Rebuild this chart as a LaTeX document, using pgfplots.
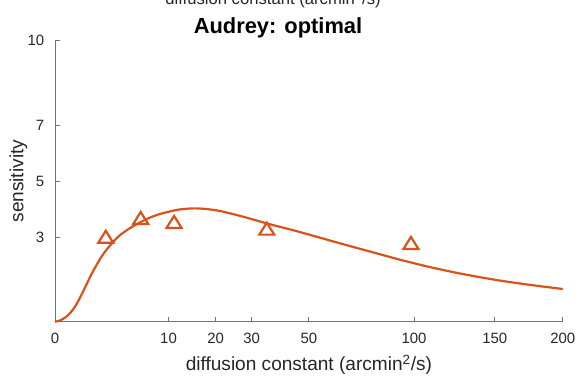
\documentclass[border=0pt]{standalone}
\usepackage{pgfplots}
\pgfplotsset{compat=1.18}
\usepackage{fontspec}
\setmainfont{Liberation Sans}
\definecolor{morange}{rgb}{0.85,0.325,0.098}
\definecolor{axgray}{rgb}{0.45,0.45,0.45}
\definecolor{txtgray}{rgb}{0.15,0.15,0.15}
\begin{document}
\begin{tikzpicture}
\begin{axis}[
  at={(41.25pt,41.475pt)}, anchor=south west,
  scale only axis, width=380.8pt, height=210.75pt,
  xmin=0, xmax=200, ymin=0, ymax=10,
  x coord trafo/.code={\pgfmathparse{sqrt(#1)}},
  x coord inv trafo/.code={\pgfmathparse{(#1)^2}},
  axis x line*=bottom, axis y line*=left,
  axis line style={axgray, line width=0.6pt, -},
  xtick={0,10,20,30,50,100,150,200},
  xticklabels={0,10,20,30,50,100,150,200},
  ytick={3,5,7,10},
  yticklabels={3,5,7,10},
  tick align=inside,
  major tick length=3.75pt,
  tick style={axgray, line width=0.6pt},
  tick label style={font=\fontsize{11.2}{13}\selectfont, text=txtgray},
  xticklabel shift=4.8pt,
  yticklabel shift=4.5pt,
  xlabel={diffusion constant (arcmin\textsuperscript{2}/s)},
  ylabel={sensitivity},
  label style={font=\fontsize{14.3}{16}\selectfont, text=txtgray},
  xlabel style={at={(axis description cs:0.5,-0.1754)}, anchor=base},
  ylabel style={at={(axis description cs:-0.0624,0.5)}, anchor=base},
  title={Audrey: optimal},
  title style={at={(axis description cs:0.4392,1.032)}, anchor=base, yshift=-7.2pt, font=\fontsize{16.4}{18}\selectfont\bfseries},
  clip=false,
]
\addplot[morange, line width=1.65pt, smooth] coordinates {
(0,0) (0.0194,0.043) (0.0776,0.142) (0.1746,0.302) (0.3104,0.534) (0.485,0.854)
(0.698,1.210) (0.9505,1.584) (1.2415,1.922) (1.571,2.224) (1.940,2.491)
(2.637,2.847) (3.278,3.078) (4.169,3.292) (4.966,3.434) (6.050,3.594)
(7.151,3.719) (8.554,3.833) (10.261,3.925) (12.124,3.996) (14.776,4.032)
(17.458,4.014) (21.124,3.940) (27.424,3.737) (35.867,3.466) (44.692,3.238)
(54.488,2.989) (65.254,2.740) (79.452,2.448) (92.352,2.206) (109.11,1.943)
(129.16,1.694) (151.59,1.480) (175.06,1.310) (200,1.164)
};
\addplot[only marks, mark=triangle, mark size=6pt, morange, mark options={line width=1.65pt, xscale=1.08}] coordinates {
(2,2.95) (5.7,3.62) (11,3.48) (34.8,3.24) (98.3,2.73)
};
\end{axis}
\node[anchor=base, font=\fontsize{12.5}{14}\selectfont, text=txtgray] at (204.75pt,279pt) {diffusion constant (arcmin\textsuperscript{2}/s)};
\pgfresetboundingbox
\path (0,0) rectangle (434.25pt,282.75pt);
\end{tikzpicture}
\end{document}
